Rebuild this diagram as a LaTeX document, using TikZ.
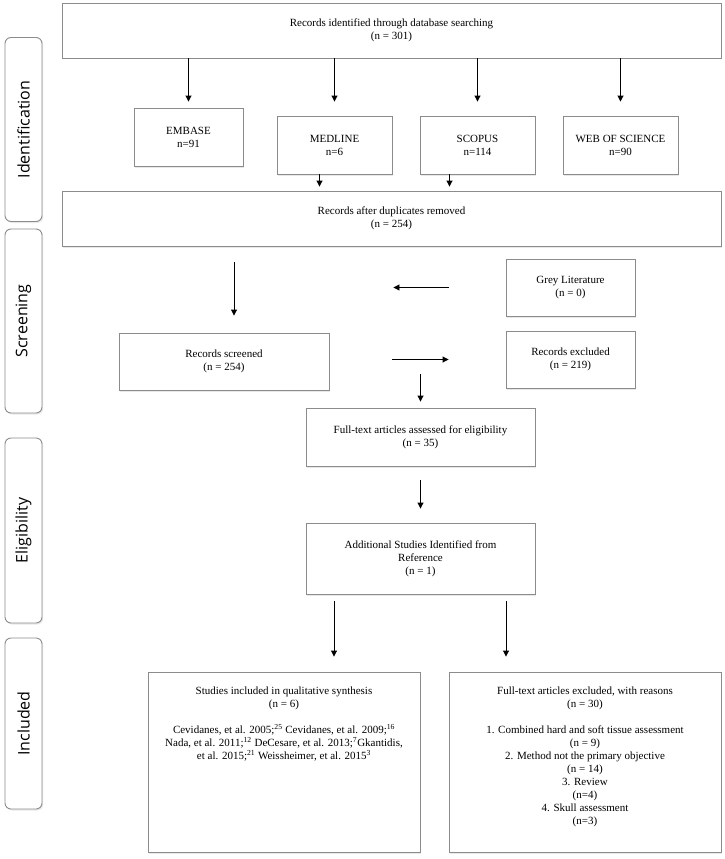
\documentclass[tikz,border=0pt]{standalone}
\usepackage{fontspec}
\setmainfont{Liberation Serif}
\newfontfamily\phasefont{Open Sans}
\usetikzlibrary{positioning,calc,arrows.meta,shadows}
\definecolor{boxgray}{RGB}{140,140,140}

\begin{document}
\begin{tikzpicture}[x=1pt, y=-1pt,
        block/.style={draw=boxgray, line width=0.9pt, fill=white, rectangle, align=center, inner sep=0pt,
            font=\fontsize{11}{13}\selectfont,
            drop shadow={shadow xshift=1.2pt, shadow yshift=-1.5pt, opacity=0.18}},
        txt/.style={align=center, inner sep=0pt, font=\fontsize{11}{13}\selectfont},
        phase/.style={draw=boxgray, line width=0.9pt, fill=white, rounded corners=6pt, inner sep=0pt,
            font=\phasefont\fontsize{16}{18}\selectfont, rotate=90,
            drop shadow={shadow xshift=1.2pt, shadow yshift=-1.5pt, opacity=0.18}},
        arr/.style={->, line width=0.9pt},
        >={Triangle[length=6pt, width=6pt]}
    ]
        \useasboundingbox (0,0) rectangle (724,859);

        % phases
        \node [phase, minimum width=184, minimum height=37] (ident) at (23.5,129.5) {Identification};
        \node [phase, minimum width=184, minimum height=37] (screen) at (23.5,321) {Screening};
        \node [phase, minimum width=185, minimum height=37] (elig) at (23.5,530.5) {Eligibility};
        \node [phase, minimum width=171, minimum height=37] (incl) at (23.5,723.5) {Included};

        % identification
        \node [block, minimum width=659, minimum height=55] (search) at (391.5,30.5) {Records identified through database searching\\(n = 301)};
        \node [block, minimum width=109, minimum height=58] (embase) at (188.5,137) {EMBASE\\n=91};
        \node [block, minimum width=115, minimum height=58] (medline) at (334.5,145) {MEDLINE\\n=6};
        \node [block, minimum width=115, minimum height=58] (scopus) at (477.5,145) {SCOPUS\\n=114};
        \node [block, minimum width=115, minimum height=58] (wos) at (620.5,145) {WEB OF SCIENCE\\n=90};
        \node [block, minimum width=659, minimum height=55] (dedup) at (391.5,218.5) {Records after duplicates removed\\(n = 254)};

        % screening
        \node [block, minimum width=129, minimum height=57] (grey) at (570.5,287.5) {Grey Literature\\(n = 0)};
        \node [block, minimum width=210, minimum height=57] (screened) at (224,361.5) {Records screened\\(n = 254)};
        \node [block, minimum width=129, minimum height=57] (recexcl) at (570.5,359.5) {Records excluded\\(n = 219)};

        % eligibility
        \node [block, minimum width=229, minimum height=58] (fulltext) at (420.5,437) {Full-text articles assessed for eligibility\\(n = 35)};
        \node [block, minimum width=229, minimum height=71] (addl) at (420.5,558.5) {Additional Studies Identified from\\Reference\\(n = 1)};
        \coordinate (fork) at (420.5,374);

        % included
        \node [block, minimum width=272, minimum height=180] (studies) at (284,762) {};
        \node [block, minimum width=272, minimum height=180] (ftexcl) at (585,762) {};
        \node [txt, below=15pt of studies.north] (studiestxt) {Studies included in qualitative synthesis\\(n = 6)\\[13pt]
            Cevidanes, et al. 2005;\textsuperscript{25} Cevidanes, et al. 2009;\textsuperscript{16}\\
            Nada, et al. 2011;\textsuperscript{12} DeCesare, et al. 2013;\textsuperscript{7}Gkantidis,\\
            et al. 2015;\textsuperscript{21} Weissheimer, et al. 2015\textsuperscript{3}};
        \node [txt, below=15pt of ftexcl.north] (ftexcltxt) {Full-text articles excluded, with reasons\\(n = 30)\\[13pt]
            1. Combined hard and soft tissue assessment\\(n = 9)\\
            2. Method not the primary objective\\(n = 14)\\
            3. Review\\(n=4)\\
            4. Skull assessment\\(n=3)};

        \draw [arr, shorten >=6pt] (search.south -| embase.north) -- (embase.north);
        \draw [arr, shorten >=14pt] (search.south -| medline.north) -- (medline.north);
        \draw [arr, shorten >=14pt] (search.south -| scopus.north) -- (scopus.north);
        \draw [arr, shorten >=14pt] (search.south -| wos.north) -- (wos.north);
        \draw [arr, shorten >=4pt] ([xshift=-15pt]medline.south) -- ([xshift=-15pt]medline.south |- dedup.north);
        \draw [arr, shorten >=4pt] ([xshift=-28pt]scopus.south) -- ([xshift=-28pt]scopus.south |- dedup.north);
        \draw [arr, shorten <=16pt, shorten >=17pt] ([xshift=10pt]dedup.south -| screened.north) -- ([xshift=10pt]screened.north);
        \draw [arr, shorten <=57pt, shorten >=64pt] (grey.west) -- (grey.west -| screened.east);
        \draw [arr, shorten <=63pt, shorten >=57pt] (screened.east |- recexcl.west) -- (recexcl.west);
        \draw [arr, shorten >=6pt] (fork) -- (fulltext.north);
        \draw [arr, shorten <=14pt, shorten >=14pt] (fulltext.south) -- (addl.north);
        \draw [arr, shorten <=7pt, shorten >=15pt] ([xshift=-86.5pt]addl.south) -- ([xshift=-86.5pt]addl.south |- studies.north);
        \draw [arr, shorten <=7pt, shorten >=15pt] ([xshift=85.5pt]addl.south) -- ([xshift=85.5pt]addl.south |- ftexcl.north);
    \end{tikzpicture}
\end{document}
